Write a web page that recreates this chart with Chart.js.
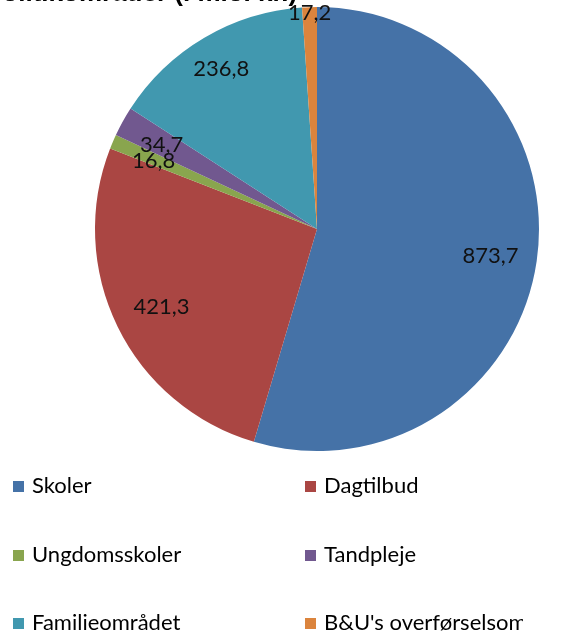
<!DOCTYPE html>
<html>
<head>
<meta charset="utf-8">
<script src="https://cdn.jsdelivr.net/npm/chart.js@4"></script>
<style>
  html, body { margin: 0; padding: 0; background: #fff; overflow: hidden; }
  #wrap { position: relative; width: 572px; height: 635px; overflow: hidden; }
  #title { position: absolute; left: -15px; top: -21px; font: bold 26px "Liberation Sans", Arial, sans-serif; line-height: 26px; color: #000; white-space: nowrap; }
  #pie { position: absolute; left: 0; top: 0; }
  #legend { position: absolute; left: 0; top: 0; width: 523px; height: 635px; overflow: hidden; pointer-events: none; }
  .item { position: absolute; font: 22px Lato, "Open Sans", sans-serif; color: #000; white-space: nowrap; line-height: 24px; }
  .item span.box { display: inline-block; width: 11px; height: 11px; margin-right: 8px; vertical-align: 1px; }
</style>
</head>
<body>
<div id="wrap">
  <canvas id="pie" width="572" height="460"></canvas>
  <div id="title">Politikområder (i mio. kr.)</div>
  <div id="legend"></div>
</div>
<script>
const categories = ["Skoler", "Dagtilbud", "Ungdomsskoler", "Tandpleje", "Familieområdet", "B&U's overførselsområde"];
const values = [873.7, 421.3, 16.8, 34.7, 236.8, 17.2];
const valueLabels = ["873,7", "421,3", "16,8", "34,7", "236,8", "17,2"];
const colors = ["#4572A7", "#AA4643", "#89A54E", "#71588F", "#4198AF", "#DB843D"];
// how far out each label sits (fraction of radius), Excel "best fit" look
const labelRadius = [0.79, 0.78, 0.80, 0.80, 0.85, 0.985];

const labelPlugin = {
  id: "sliceLabels",
  afterDatasetsDraw(chart) {
    const ctx = chart.ctx;
    const meta = chart.getDatasetMeta(0);
    ctx.save();
    ctx.font = "22px Lato, 'Open Sans', sans-serif";
    ctx.fillStyle = "#111";
    ctx.textAlign = "center";
    ctx.textBaseline = "middle";
    meta.data.forEach((arc, i) => {
      const p = arc.getProps(["x", "y", "startAngle", "endAngle", "outerRadius"], true);
      const mid = (p.startAngle + p.endAngle) / 2;
      const r = p.outerRadius * labelRadius[i];
      ctx.fillText(valueLabels[i], p.x + Math.cos(mid) * r, p.y + Math.sin(mid) * r + 2);
    });
    ctx.restore();
  }
};

new Chart(document.getElementById("pie"), {
  type: "pie",
  data: {
    labels: categories,
    datasets: [{ data: values, backgroundColor: colors, borderWidth: 0 }]
  },
  options: {
    responsive: false,
    animation: false,
    layout: { padding: { left: 95, right: 33, top: 7, bottom: 9 } },
    plugins: { legend: { display: false }, tooltip: { enabled: false } }
  },
  plugins: [labelPlugin]
});

// legend, two columns (Excel clipped the last entry)
const leg = document.getElementById("legend");
const colX = [13, 305];
const rowY = [473, 542, 610];
categories.forEach((c, i) => {
  const d = document.createElement("div");
  d.className = "item";
  d.style.left = colX[i % 2] + "px";
  d.style.top = rowY[Math.floor(i / 2)] + "px";
  d.innerHTML = `<span class="box" style="background:${colors[i]}"></span>`;
  d.appendChild(document.createTextNode(c));
  leg.appendChild(d);
});
</script>
</body>
</html>
